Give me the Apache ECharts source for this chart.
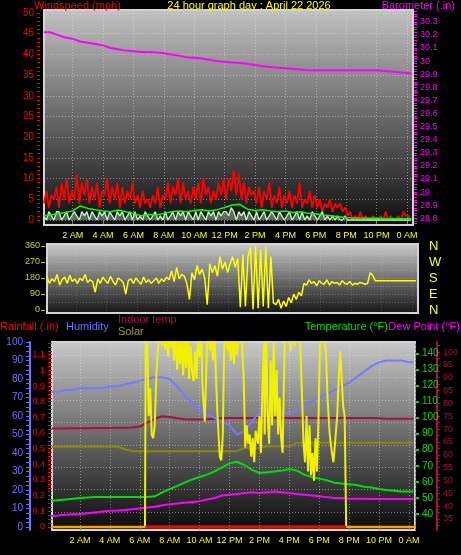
<!DOCTYPE html>
<html><head><meta charset="utf-8">
<script src="https://cdn.jsdelivr.net/npm/echarts@6/dist/echarts.min.js"></script>
<style>html,body{margin:0;padding:0;background:#000;}#c{width:461px;height:555px;}</style>
</head><body><div id="c"></div>
<script>
// ---------- DATA ----------
const TITLE = '24 hour graph day : April 22 2026';
const tickHours = [2,4,6,8,10,12,14,16,18,20,22,24];
const tickLabels = ['2 AM','4 AM','6 AM','8 AM','10 AM','12 PM','2 PM','4 PM','6 PM','8 PM','10 PM','0 AM'];
const windLabels = [0,5,10,15,20,25,30,35,40,45,50];
const baroLabels = [28.8,28.9,29,29.1,29.2,29.3,29.4,29.5,29.6,29.7,29.8,29.9,30,30.1,30.2,30.3];
const dirLabels = [0,90,180,270,360];
const compass = ['N','E','S','W','N'];
const humLabels = [0,10,20,30,40,50,60,70,80,90,100];
const rainLabels = [0,0.1,0.2,0.3,0.4,0.5,0.6,0.7,0.8,0.9,1,1.1];
const tempLabels = [40,50,60,70,80,90,100,110,120,130,140];
const indoorLabels = [35,40,45,50,55,60,65,70,75,80,85,90,95,100];

// 10-minute samples starting 00:06
const windGust = [4,7,3,6,5,8, 3,9,5,10,4,7, 5,11,4,9,6,10, 4,8,5,9,3,7, 6,10,4,8,5,9, 3,8,4,7,5,9,
  4,6,3,7,4,5, 3,6,4,8,3,6, 5,9,4,8,6,10, 4,9,5,7,4,8, 5,9,4,10,6,8, 4,7,5,9,6,10,
  5,10,7,12,6,11, 5,9,4,8,6,7, 4,8,3,7,5,9, 3,6,4,8,3,6, 4,7,3,6,4,9, 3,5,4,7,3,6,
  3,5,2,4,3,5, 2,4,3,4,2,3, 1,2,0,1,0,2, 0,1,0,0,1,0, 0,1,0,2,0,1, 0,0,1,0,2,1, 1,0];
const windCalm = [1,0,2,1,0,2, 2,0,1,2,0,1, 2,1,0,2,1,2, 0,2,1,0,2,1, 2,0,2,1,0,2, 1,2,0,1,2,0,
  2,0,1,0,2,1, 0,1,2,0,1,0, 2,0,1,2,0,2, 1,2,0,2,1,0, 2,0,2,1,0,2, 1,2,0,2,1,2,
  2,1,3,2,0,2, 1,2,0,2,1,0, 2,0,1,2,0,1, 2,1,0,2,1,0, 1,2,0,1,2,0, 2,0,1,0,2,1,
  0,1,2,0,1,0, 1,0,1,0,0,1, 0,0,0,0,0,0, 0,0,0,0,0,0, 0,0,0,0,0,0, 0,0,0,0,0,0, 0,0];
const windDir = [190,150,175,160,200,140, 170,185,150,195,160,175, 150,180,165,200,155,170,
  160,100,175,150,185,165, 150,190,160,140,180,170, 155,90,165,175,150,180,
  160,145,185,155,170,150, 165,180,150,175,160,185, 170,220,160,240,175,200,
  190,150,60,210,170,250, 200,230,180,30,260,210, 250,190,300,230,270,210,
  260,300,240,290,15,310, 20,300,350,5,360,10, 340,20,355,10,300,40,
  30,60,10,50,20,70, 40,90,60,100,80,150, 140,170,150,160,135,165,
  150,145,170,140,160,150, 155,140,165,150,145,160, 140,150,145,155,150,145,
  150,210,195,165,165,165, 165,165,165,165,165,165, 165,165,165,165,165,165, 165,165];

// half-hour samples: 0.1, 0.5, 1.0 ... 24.0, 24.3
const windAvg = [1.0,1.2,1.5,1.8,2.2,3.4,2.8,2.5,2.2,2.0,2.4,2.0,1.6,1.0,1.3,1.2,1.6,2.0,2.2,2.0,
  2.3,2.5,2.2,2.5,3.0,3.6,3.8,2.6,2.3,2.5,2.2,2.0,2.2,1.8,2.0,1.6,1.5,1.2,1.0,0.8,
  0.6,0.5,0.5,0.4,0.4,0.3,0.3,0.3,0.3,0.3];
const baro = [30.22,30.22,30.20,30.18,30.17,30.15,30.14,30.13,30.12,30.10,30.09,30.08,30.075,30.07,30.07,30.065,
  30.06,30.05,30.04,30.03,30.025,30.02,30.01,30.00,29.995,29.99,29.985,29.98,29.97,29.96,29.955,29.95,
  29.945,29.94,29.935,29.93,29.93,29.93,29.93,29.93,29.93,29.93,29.93,29.93,29.93,29.925,29.92,29.915,29.91,29.905];
const humidity = [73,73,74,74,75,75,75,75,76,76,77,78,79,80,81,81,80,76,71,67,63,61,59,57,55,50,52,57,62,63,
  63,62,61,63,66,68,70,72,74,76,78,81,84,87,89,90,90,90,89,89];
const temperature = [48.3,48.5,49,49.5,50,50.3,50.5,50.5,50.6,50.6,50.6,50.6,50.6,50.6,51,53.5,55.5,57.5,59.5,61.5,
  63,64.5,66.5,69,71.5,72.5,70.5,67.5,65.5,66,66.5,67,68,67,64.5,63,62,61,59.5,59,
  58.5,58,57,56.5,55.5,55,54.5,54,54,54];
const dewPoint = [38.7,39,39.5,39.8,40,40.5,41,41.5,42,42.2,42.5,43,43.5,44,44.5,45.5,46,46.5,47,47.5,
  48,49,50,51.5,52,52.5,53,53.5,53,53.5,54,53.5,53,52.5,52,51.5,51,50.5,50,50,
  49.5,49.5,49.5,49.3,49.3,49.3,49.3,49.3,49.3,49.3];
const indoorTemp = [70.2,70.2,70.2,70.3,70.3,70.3,70.4,70.4,70.4,70.5,70.5,70.6,71,72.5,74,75,74.7,74.2,73.8,73.7,
  73.7,73.8,74,74.2,74.3,74.3,74.3,74.3,74.3,74.3,74.3,74.3,74.3,74.3,74.3,74.3,74.3,74.3,74.3,74.3,
  74.3,74.3,74.3,74.3,74.2,74,74,74,74,74];
const solarAvg = [43.4,43.4,43.4,43.4,43.4,43.4,43.4,43.4,43.4,43.4,42,41,41,41,41,41,41,41,41,41,
  41,41,41,41,41,41,42.7,42.7,42.7,43.6,43.6,43.6,43.6,45.6,45.6,45.6,45.6,45.6,45.6,45.6,
  45.6,45.6,45.6,45.6,45.6,45.6,45.6,45.6,45.6,45.6];

// solar radiation trace (humidity scale, values above 100 are clipped at the top)
const solarHours = [0.1,6.35,6.4,6.5,6.6,6.7,6.8,6.9,7.0,7.1,7.2,7.35,7.5,7.6,7.7,7.8,7.9,8.0,8.1,8.2,8.3,8.4,8.5,8.6,8.7,8.8,8.9,9.0,
  9.1,9.2,9.3,9.4,9.5,9.6,9.7,9.8,9.9,10.0,10.1,10.2,10.35,10.5,10.6,10.7,10.8,10.9,11.0,11.1,11.2,11.35,11.45,11.55,11.65,11.75,11.9,
  12.0,12.1,12.2,12.3,12.4,12.5,12.6,12.7,12.8,12.95,13.05,13.15,13.25,13.35,13.45,13.55,13.65,13.75,13.9,14.0,14.1,14.2,14.3,14.35,
  14.45,14.55,14.65,14.75,14.85,14.95,15.05,15.15,15.25,15.35,15.45,15.55,15.7,15.85,16.0,16.1,16.2,16.35,16.5,16.7,16.85,16.95,
  17.05,17.15,17.25,17.35,17.45,17.55,17.65,17.75,17.85,17.95,18.05,18.15,18.3,18.45,18.55,18.7,18.85,18.95,19.05,19.2,19.3,19.4,
  19.5,19.6,19.7,19.78,19.8,24.4];
const solarVals = [0,0,105,100,60,75,50,48,55,80,95,105,98,105,96,105,92,105,97,105,90,105,85,100,88,105,82,100,
  86,105,80,98,84,79,95,80,105,92,105,75,57,100,105,95,105,90,105,80,60,38,36,50,100,105,95,
  105,90,105,88,105,93,105,100,105,80,43,55,45,50,38,48,35,52,45,60,40,75,100,50,
  105,60,45,90,55,100,60,85,50,70,48,40,105,100,105,95,105,98,105,105,70,45,
  35,60,30,55,28,40,25,48,30,60,100,105,102,95,70,50,40,35,45,60,80,95,
  80,65,60,60,0,0];
const rainHours = [6.38,19.8];
const rainVals = [0,0];
const baseHours = [0.1,24.4];
const baseVals = [0,0];

// ---------- BUILD ----------
const START = 0.1;
const t10 = windGust.map((_, i) => +(START + i / 6).toFixed(4));
const tHalf = [0.1];
for (let i = 1; i <= 48; i++) tHalf.push(i * 0.5);
tHalf.push(24.3);
const pair = (ts, vs) => vs.map((v, i) => [ts[i], v]);
const steps = (a, b, s) => { const r = []; for (let k = 0; a + k * s <= b + 1e-9; k++) r.push(+(a + k * s).toFixed(4)); return r; };
const FONT = 'Arial, "Liberation Sans", sans-serif';
const grad = (c0, c1) => new echarts.graphic.LinearGradient(0, 0, 0, 1, [{offset: 0, color: c0}, {offset: 1, color: c1}]);
const xLab = v => tickLabels[tickHours.indexOf(Math.round(v))] || '';
const split = {show: true, lineStyle: {color: 'rgba(235,235,235,0.45)', type: [1, 2], width: 1}};
const X_MIN = 0.11, X_MAX = 24.4;

const hiddenY = (grid, min, max, ticks, extra) => Object.assign({
  type: 'value', gridIndex: grid, min, max, position: 'left',
  axisLine: {show: false}, axisLabel: {show: false},
  axisTick: {show: false, customValues: ticks}, splitLine: split
}, extra || {});

const ln = (name, x, y, data, color, width, extra) => Object.assign({
  type: 'line', name, xAxisIndex: x, yAxisIndex: y, data, symbol: 'none',
  lineStyle: {color, width}, itemStyle: {color}, silent: true
}, extra || {});

const option = {
  backgroundColor: '#000',
  animation: false,
  grid: [
    {left: 44, top: 10, width: 369, height: 215, show: true, backgroundColor: grad('#c2c2c2', '#0e0e0e'), borderColor: '#d4d4d4', borderWidth: 2},
    {left: 47, top: 244, width: 371, height: 69, show: true, backgroundColor: grad('#cccccc', '#141414'), borderColor: '#d4d4d4', borderWidth: 2},
    {left: 52, top: 342, width: 364, height: 188, show: true, backgroundColor: grad('#c8c8c8', '#0a0a0a'), borderColor: '#d4d4d4', borderWidth: 2}
  ],
  xAxis: [
    {type: 'value', gridIndex: 0, min: X_MIN, max: X_MAX,
     axisLine: {show: false}, axisTick: {show: true, customValues: tickHours, length: 3, lineStyle: {color: '#888'}},
     axisLabel: {customValues: tickHours, formatter: xLab, color: '#ffff00', fontSize: 9, fontFamily: FONT, margin: 6},
     splitLine: split},
    {type: 'value', gridIndex: 1, min: X_MIN, max: X_MAX,
     axisLine: {show: false}, axisTick: {show: false, customValues: tickHours}, axisLabel: {show: false},
     splitLine: {show: true, lineStyle: {color: 'rgba(235,235,235,0.2)', type: [1, 2]}}},
    {type: 'value', gridIndex: 2, min: 0.133, max: X_MAX,
     axisLine: {show: false}, axisTick: {show: true, customValues: tickHours, length: 3, lineStyle: {color: '#888'}},
     axisLabel: {customValues: tickHours, formatter: xLab, color: '#ffff00', fontSize: 9, fontFamily: FONT, margin: 6},
     splitLine: split}
  ],
  yAxis: [
    // 0 wind speed
    {type: 'value', gridIndex: 0, min: -1.21, max: 50.72, position: 'left', offset: 4,
     axisLine: {show: false},
     axisTick: {show: true, customValues: steps(0, 50, 1), length: 3, lineStyle: {color: '#ff0000'}},
     axisLabel: {customValues: windLabels, color: '#ff0000', fontSize: 10, fontFamily: FONT, margin: 6},
     splitLine: {show: false}},
    // 1 barometer
    {type: 'value', gridIndex: 0, min: 28.749, max: 30.39, position: 'right', offset: 1,
     axisLine: {show: false},
     axisTick: {show: true, customValues: steps(28.76, 30.38, 0.02), length: 3, lineStyle: {color: '#ff00ff'}},
     axisLabel: {customValues: baroLabels, color: '#ff00ff', fontSize: 9, fontFamily: FONT, margin: 6, formatter: v => String(+v.toFixed(1))},
     splitLine: {show: false}},
    // 2 wind grid lines
    hiddenY(0, -1.21, 50.72, windLabels),
    // 3 direction
    {type: 'value', gridIndex: 1, min: -16.9, max: 371.2, position: 'left', offset: 2,
     axisLine: {show: false},
     axisTick: {show: true, customValues: dirLabels, length: 4, lineStyle: {color: '#c8c800'}},
     axisLabel: {customValues: dirLabels, color: '#d0d000', fontSize: 9, fontFamily: FONT, margin: 5},
     splitLine: {show: false}},
    // 4 compass letters
    {type: 'value', gridIndex: 1, min: -16.9, max: 371.2, position: 'right', offset: 0,
     axisLine: {show: false}, axisTick: {show: false},
     axisLabel: {customValues: dirLabels, formatter: v => compass[dirLabels.indexOf(Math.round(v))], color: '#ffff00', fontSize: 13, fontFamily: FONT, margin: 11},
     splitLine: {show: false}},
    // 5 direction grid lines
    hiddenY(1, -16.9, 371.2, [45, 90, 135, 180, 225, 270, 315], {splitLine: {show: true, lineStyle: {color: 'rgba(235,235,235,0.25)', type: [1, 2]}}}),
    // 6 humidity
    {type: 'value', gridIndex: 2, min: -1.62, max: 100, position: 'left', offset: 22,
     axisLine: {show: true, lineStyle: {color: '#7070ff', width: 2}},
     axisTick: {show: true, customValues: steps(0, 100, 2.5), length: 4, lineStyle: {color: '#7070ff'}},
     axisLabel: {customValues: humLabels, color: '#7070ff', fontSize: 10, fontFamily: FONT, margin: 7},
     splitLine: {show: false}},
    // 7 rainfall
    {type: 'value', gridIndex: 2, min: -0.0192, max: 1.181, position: 'left', offset: 0,
     axisLine: {show: false},
     axisTick: {show: true, customValues: steps(0, 1.175, 0.025), length: 4, lineStyle: {color: '#ff0000'}},
     axisLabel: {customValues: rainLabels, color: '#ff0000', fontSize: 9, fontFamily: FONT, margin: 7, formatter: v => String(+v.toFixed(1))},
     splitLine: {show: false}},
    // 8 temperature
    {type: 'value', gridIndex: 2, min: 30.04, max: 147.03, position: 'right', offset: 0,
     axisLine: {show: true, lineStyle: {color: '#00e000', width: 1, type: [2, 2]}},
     axisTick: {show: true, customValues: tempLabels, length: 4, lineStyle: {color: '#00e000', width: 2}},
     axisLabel: {customValues: tempLabels, color: '#00e000', fontSize: 10, fontFamily: FONT, margin: 7},
     splitLine: {show: false}},
    // 9 indoor temp
    {type: 'value', gridIndex: 2, min: 30.72, max: 103.9, position: 'right', offset: 22,
     axisLine: {show: true, lineStyle: {color: '#a8103f', width: 2}},
     axisTick: {show: true, customValues: steps(32.5, 102.5, 2.5), length: 3, lineStyle: {color: '#a8103f'}},
     axisLabel: {customValues: indoorLabels, color: '#a8103f', fontSize: 9, fontFamily: FONT, margin: 6},
     splitLine: {show: false}},
    // 10 bottom panel grid lines
    hiddenY(2, 0, 188, [18, 40.4, 62.8, 85.2, 107.6, 130, 152.4, 174.8])
  ],
  series: [
    ln('Gust', 0, 0, pair(t10, windGust), '#ff0000', 1.8),
    ln('Wind', 0, 0, pair(t10, windCalm), '#c4f2c4', 1.3, {areaStyle: {color: 'rgba(196,242,196,0.55)'}}),
    ln('Average', 0, 0, pair(tHalf, windAvg), '#00ff00', 1.5),
    ln('Barometer', 0, 1, pair(tHalf, baro), '#ff00ff', 2),
    ln('Direction', 1, 3, pair(t10, windDir), '#ffff00', 1.5),
    ln('Solar', 2, 6, pair(tHalf, solarAvg), '#8a8a00', 2),
    ln('Indoor temp', 2, 9, pair(tHalf, indoorTemp), '#a8103f', 2),
    ln('Humidity', 2, 6, pair(tHalf, humidity), '#7878ff', 2),
    ln('Dew Point', 2, 8, pair(tHalf, dewPoint), '#ff00ff', 2),
    ln('Temperature', 2, 8, pair(tHalf, temperature), '#00e000', 2),
    ln('Solar radiation', 2, 6, pair(solarHours, solarVals), '#f2f200', 2),
    ln('Base', 2, 7, pair(baseHours, baseVals), '#ffa000', 2.5),
    ln('Rainfall', 2, 7, pair(rainHours, rainVals), '#ff0000', 2.5)
  ],
  graphic: [
    {type: 'text', x: 34, y: 6, style: {text: 'Windspeed (mph)', fill: '#ff0000', font: '11px ' + FONT, textAlign: 'left', textVerticalAlign: 'middle'}},
    {type: 'text', x: 249, y: 6, style: {text: TITLE, fill: '#ffff00', font: '11px ' + FONT, textAlign: 'center', textVerticalAlign: 'middle'}},
    {type: 'text', x: 455, y: 6, style: {text: 'Barometer (.in)', fill: '#ff00ff', font: '11px ' + FONT, textAlign: 'right', textVerticalAlign: 'middle'}},
    {type: 'text', x: 0, y: 327, style: {text: 'Rainfall (.in)', fill: '#ff0000', font: '11px ' + FONT, textAlign: 'left', textVerticalAlign: 'middle'}},
    {type: 'text', x: 66, y: 327, style: {text: 'Humidity', fill: '#7070ff', font: '11px ' + FONT, textAlign: 'left', textVerticalAlign: 'middle'}},
    {type: 'text', x: 118, y: 320, style: {text: 'Indoor temp', fill: '#a8103f', font: '11px ' + FONT, textAlign: 'left', textVerticalAlign: 'middle'}},
    {type: 'text', x: 118, y: 332, style: {text: 'Solar', fill: '#a0a000', font: '11px ' + FONT, textAlign: 'left', textVerticalAlign: 'middle'}},
    {type: 'text', x: 388, y: 327, style: {text: 'Temperature (°F)', fill: '#00e000', font: '11px ' + FONT, textAlign: 'right', textVerticalAlign: 'middle'}},
    {type: 'text', x: 460, y: 327, style: {text: 'Dew Point (°F)', fill: '#ff00ff', font: '11px ' + FONT, textAlign: 'right', textVerticalAlign: 'middle'}}
  ]
};
const chart = echarts.init(document.getElementById('c'), null, {renderer: 'canvas'});
chart.setOption(option);
</script>
</body></html>
